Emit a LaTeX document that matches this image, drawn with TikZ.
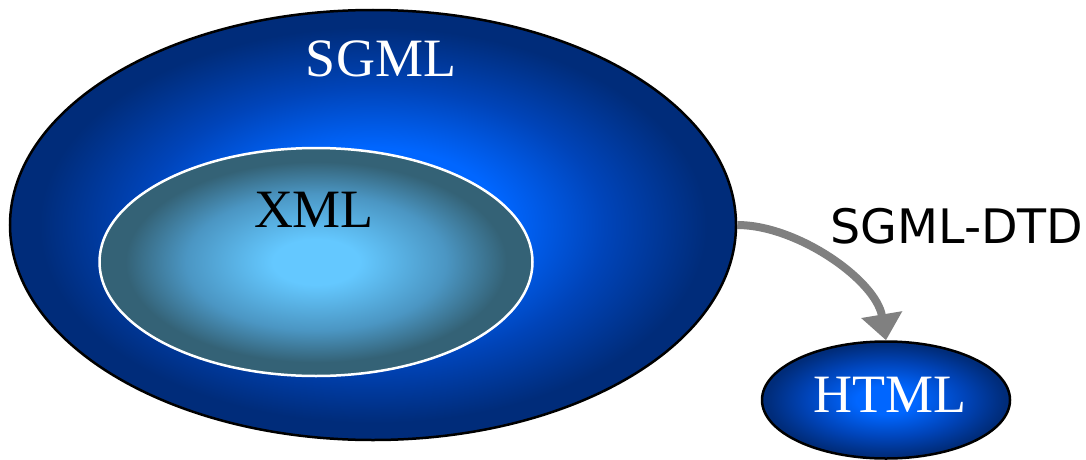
\documentclass[tikz,border=0pt]{standalone}
\usepackage{fontspec}
\setmainfont{Liberation Serif}
\newfontfamily\dtdfont{DejaVu Sans}
\usetikzlibrary{shapes.geometric,arrows.meta}
\definecolor{sgmlin}{RGB}{0,102,255}
\definecolor{sgmlmid}{RGB}{0,68,185}
\definecolor{sgmlout}{RGB}{0,44,122}
\definecolor{xmlin}{RGB}{100,200,255}
\definecolor{xmlmid}{RGB}{75,150,195}
\definecolor{xmlout}{RGB}{52,98,118}
\definecolor{arrgray}{RGB}{128,128,128}
\pgfdeclareradialshading{sgmlshade}{\pgfpointorigin}{color(0bp)=(sgmlin); color(9bp)=(sgmlin); color(16bp)=(sgmlmid); color(23bp)=(sgmlout); color(50bp)=(sgmlout)}
\pgfdeclareradialshading{xmlshade}{\pgfpointorigin}{color(0bp)=(xmlin); color(5bp)=(xmlin); color(15bp)=(xmlmid); color(22bp)=(xmlout); color(50bp)=(xmlout)}
\pgfdeclareradialshading{htmlshade}{\pgfpointorigin}{color(0bp)=(sgmlin); color(6bp)=(sgmlin); color(16bp)=(sgmlmid); color(24bp)=(sgmlout); color(50bp)=(sgmlout)}
\tikzset{
  blob/.style={ellipse, inner sep=0pt},
  serifbig/.style={font=\fontsize{54}{60}\selectfont, inner sep=0pt},
  conn/.style={draw=arrgray, line width=8pt, -{Triangle[width=40pt,length=26pt]}},
}
\begin{document}
\begin{tikzpicture}[x=1pt,y=-1pt]
\useasboundingbox (0,0) rectangle (1086,460);
\node[blob, draw=black, line width=2.5pt, shading=sgmlshade, minimum width=726pt, minimum height=430pt] (sgml) at (373,225) {};
\node[blob, draw=white, line width=2.5pt, shading=xmlshade, minimum width=433pt, minimum height=228pt] (xml) at (316,262) {};
\node[blob, draw=black, line width=2.5pt, shading=htmlshade, minimum width=248pt, minimum height=117pt] (html) at (886,400) {};
\node[serifbig, text=white] (sgmltext) at (381,59) {SGML};
\node[serifbig, text=black] (xmltext) at (314,210) {XML};
\node[serifbig, text=white] (htmltext) at (890,395) {HTML};
\node[font=\dtdfont\fontsize{47.5}{52}\selectfont, inner sep=0pt] (dtd) at (957,226) {SGML-DTD};
\draw[conn] (sgml.east) .. controls +(60,0) and +(-10,-60) .. (html.north);
\end{tikzpicture}
\end{document}
